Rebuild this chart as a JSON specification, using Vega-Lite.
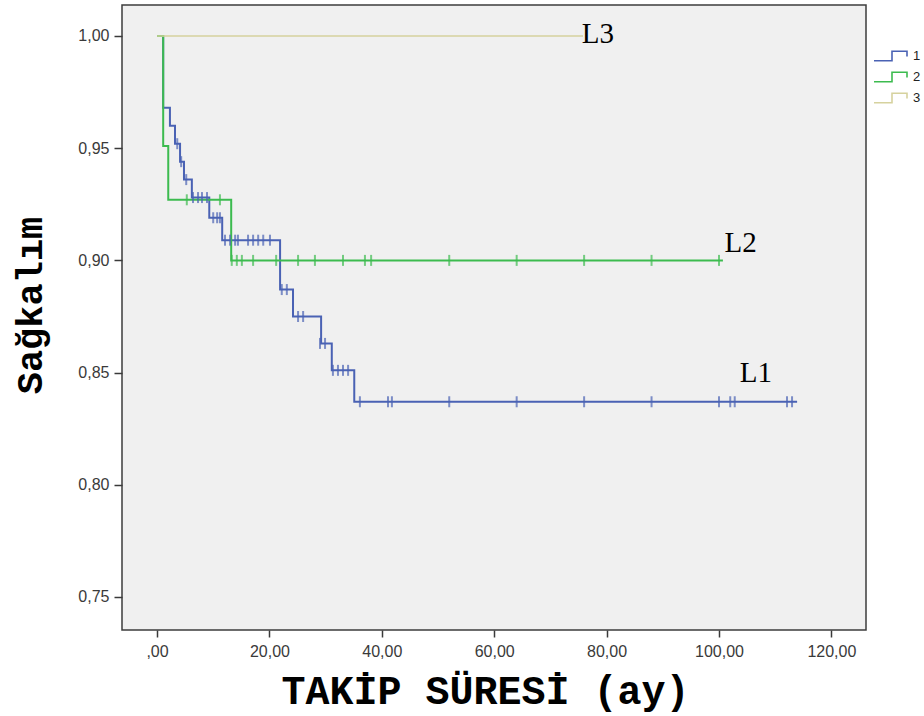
{
  "$schema": "https://vega.github.io/schema/vega-lite/v6.json",
  "width": 744,
  "height": 625,
  "autosize": {"type": "none"},
  "padding": {"left": 122, "top": 5, "right": 58, "bottom": 86},
  "background": "white",
  "config": {
    "view": {"fill": "#f0f0f0", "stroke": "#3c3c3c", "strokeWidth": 1.5},
    "axis": {
      "grid": false,
      "domain": false,
      "labelFont": "Liberation Sans",
      "labelColor": "#3a3a3a",
      "tickColor": "#3a3a3a",
      "tickWidth": 1.5,
      "titleColor": "black",
      "titleFont": "Liberation Mono",
      "titleFontWeight": "bold"
    }
  },
  "datasets": {
    "lines": [
      {"group": "1", "t": 0, "s": 1.0},
      {"group": "1", "t": 1.1, "s": 0.968},
      {"group": "1", "t": 2.3, "s": 0.960},
      {"group": "1", "t": 3.2, "s": 0.952},
      {"group": "1", "t": 4.1, "s": 0.944},
      {"group": "1", "t": 4.8, "s": 0.936},
      {"group": "1", "t": 6.2, "s": 0.928},
      {"group": "1", "t": 9.3, "s": 0.919},
      {"group": "1", "t": 11.6, "s": 0.909},
      {"group": "1", "t": 21.9, "s": 0.887},
      {"group": "1", "t": 24.2, "s": 0.875},
      {"group": "1", "t": 29.2, "s": 0.863},
      {"group": "1", "t": 31.1, "s": 0.851},
      {"group": "1", "t": 35.1, "s": 0.837},
      {"group": "1", "t": 113.9, "s": 0.837},
      {"group": "2", "t": 0, "s": 1.0},
      {"group": "2", "t": 1.1, "s": 0.951},
      {"group": "2", "t": 2.0, "s": 0.927},
      {"group": "2", "t": 13.2, "s": 0.900},
      {"group": "2", "t": 100.7, "s": 0.900},
      {"group": "3", "t": 0, "s": 1.0},
      {"group": "3", "t": 75.8, "s": 1.0}
    ],
    "censors": [
      {"group": "1", "t": 3.6, "s": 0.952},
      {"group": "1", "t": 4.3, "s": 0.944},
      {"group": "1", "t": 5.2, "s": 0.936},
      {"group": "1", "t": 6.4, "s": 0.928},
      {"group": "1", "t": 7.3, "s": 0.928},
      {"group": "1", "t": 8.0, "s": 0.928},
      {"group": "1", "t": 8.9, "s": 0.928},
      {"group": "1", "t": 10.0, "s": 0.919},
      {"group": "1", "t": 10.7, "s": 0.919},
      {"group": "1", "t": 11.2, "s": 0.919},
      {"group": "1", "t": 12.1, "s": 0.909},
      {"group": "1", "t": 13.0, "s": 0.909},
      {"group": "1", "t": 13.9, "s": 0.909},
      {"group": "1", "t": 14.4, "s": 0.909},
      {"group": "1", "t": 16.2, "s": 0.909},
      {"group": "1", "t": 17.1, "s": 0.909},
      {"group": "1", "t": 18.0, "s": 0.909},
      {"group": "1", "t": 18.9, "s": 0.909},
      {"group": "1", "t": 20.1, "s": 0.909},
      {"group": "1", "t": 22.2, "s": 0.887},
      {"group": "1", "t": 23.1, "s": 0.887},
      {"group": "1", "t": 25.1, "s": 0.875},
      {"group": "1", "t": 26.0, "s": 0.875},
      {"group": "1", "t": 29.0, "s": 0.863},
      {"group": "1", "t": 29.9, "s": 0.863},
      {"group": "1", "t": 31.3, "s": 0.851},
      {"group": "1", "t": 32.2, "s": 0.851},
      {"group": "1", "t": 33.1, "s": 0.851},
      {"group": "1", "t": 34.0, "s": 0.851},
      {"group": "1", "t": 36.1, "s": 0.837},
      {"group": "1", "t": 41.1, "s": 0.837},
      {"group": "1", "t": 41.8, "s": 0.837},
      {"group": "1", "t": 52, "s": 0.837},
      {"group": "1", "t": 64, "s": 0.837},
      {"group": "1", "t": 76, "s": 0.837},
      {"group": "1", "t": 88, "s": 0.837},
      {"group": "1", "t": 100, "s": 0.837},
      {"group": "1", "t": 102, "s": 0.837},
      {"group": "1", "t": 102.8, "s": 0.837},
      {"group": "1", "t": 112.1, "s": 0.837},
      {"group": "1", "t": 113, "s": 0.837},
      {"group": "2", "t": 5.3, "s": 0.927},
      {"group": "2", "t": 11.2, "s": 0.927},
      {"group": "2", "t": 13.3, "s": 0.900},
      {"group": "2", "t": 14.2, "s": 0.900},
      {"group": "2", "t": 15.1, "s": 0.900},
      {"group": "2", "t": 17.1, "s": 0.900},
      {"group": "2", "t": 21.2, "s": 0.900},
      {"group": "2", "t": 25.1, "s": 0.900},
      {"group": "2", "t": 28.1, "s": 0.900},
      {"group": "2", "t": 33.1, "s": 0.900},
      {"group": "2", "t": 37.0, "s": 0.900},
      {"group": "2", "t": 38.1, "s": 0.900},
      {"group": "2", "t": 52, "s": 0.900},
      {"group": "2", "t": 64, "s": 0.900},
      {"group": "2", "t": 76, "s": 0.900},
      {"group": "2", "t": 88, "s": 0.900},
      {"group": "2", "t": 100, "s": 0.900}
    ],
    "labels": [
      {"label": "L3", "t": 75.6, "s": 0.9969},
      {"label": "L2", "t": 101.0, "s": 0.9037},
      {"label": "L1", "t": 103.7, "s": 0.8458}
    ]
  },
  "encoding": {
    "x": {
      "field": "t",
      "type": "quantitative",
      "scale": {"domain": [-6.23, 126.16], "nice": false, "zero": false},
      "axis": {
        "values": [0, 20, 40, 60, 80, 100, 120],
        "labelExpr": "datum.value == 0 ? ',00' : replace(format(datum.value, '.2f'), '.', ',')",
        "tickSize": 7,
        "labelPadding": 6,
        "labelFontSize": 16,
        "title": "TAKİP SÜRESİ (ay)",
        "titleFontSize": 40,
        "titleX": 363,
        "titleY": 73,
        "titleBaseline": "alphabetic"
      }
    },
    "y": {
      "field": "s",
      "type": "quantitative",
      "scale": {"domain": [0.73529, 1.01381], "nice": false, "zero": false},
      "axis": {
        "values": [0.75, 0.8, 0.85, 0.9, 0.95, 1.0],
        "labelExpr": "replace(format(datum.value, '.2f'), '.', ',')",
        "tickSize": 8,
        "labelPadding": 5,
        "labelFontSize": 16,
        "title": "Sağkalım",
        "titleFontSize": 37,
        "titleAngle": -90,
        "titleBaseline": "middle",
        "titleX": -92,
        "titleY": 300
      }
    },
    "color": {
      "field": "group",
      "type": "nominal",
      "scale": {"domain": ["1", "2", "3"], "range": ["#4a62b4", "#3cbb4f", "#d6d29e"]},
      "legend": {
        "orient": "none",
        "legendX": 751,
        "legendY": 44,
        "title": null,
        "symbolType": "M-1,0.8H2V-0.8H4.5V0.1V-0.8H2V0.8H-1",
        "symbolSize": 144,
        "symbolStrokeWidth": 1.6,
        "symbolFillColor": "transparent",
        "labelOffset": 26,
        "labelFont": "Liberation Sans",
        "labelFontSize": 13,
        "labelColor": "#222",
        "rowPadding": 5
      }
    }
  },
  "layer": [
    {
      "data": {"name": "lines"},
      "transform": [{"filter": "datum.group == '1'"}],
      "mark": {"type": "line", "interpolate": "step-after", "strokeWidth": 2}
    },
    {
      "data": {"name": "lines"},
      "transform": [{"filter": "datum.group == '2'"}],
      "mark": {"type": "line", "interpolate": "step-after", "strokeWidth": 2}
    },
    {
      "data": {"name": "lines"},
      "transform": [{"filter": "datum.group == '3'"}],
      "mark": {"type": "line", "interpolate": "step-after", "strokeWidth": 1.6}
    },
    {
      "data": {"name": "censors"},
      "mark": {"type": "tick", "orient": "vertical", "size": 11, "thickness": 2},
      "encoding": {
        "color": {"field": "group", "type": "nominal", "legend": null}
      }
    },
    {
      "data": {"name": "labels"},
      "mark": {"type": "text", "align": "left", "baseline": "alphabetic", "font": "Liberation Serif", "fontSize": 29},
      "encoding": {
        "text": {"field": "label", "type": "nominal"},
        "color": {"value": "black"}
      }
    }
  ]
}
